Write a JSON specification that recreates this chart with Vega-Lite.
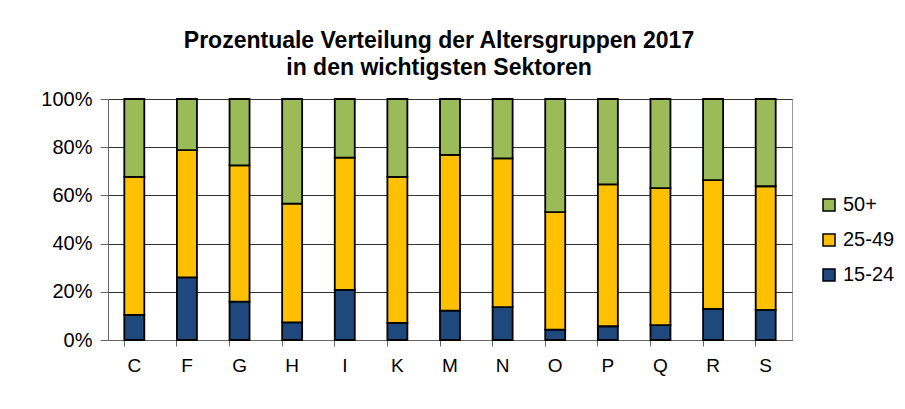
{
  "$schema": "https://vega.github.io/schema/vega-lite/v6.json",
  "width": 684,
  "height": 241,
  "autosize": {"type": "none"},
  "padding": {"left": 108, "top": 99, "right": 113, "bottom": 69},
  "background": "white",
  "title": {
    "text": ["Prozentuale Verteilung der Altersgruppen 2017", "in den wichtigsten Sektoren"],
    "font": "Liberation Sans",
    "fontSize": 23,
    "fontWeight": "bold",
    "color": "black",
    "anchor": "middle",
    "dx": -11,
    "offset": 9,
    "lineHeight": 27
  },
  "data": {
    "values": [
      {"sektor": "C", "gruppe": "15-24", "anteil": 10.4},
      {"sektor": "C", "gruppe": "25-49", "anteil": 57.3},
      {"sektor": "C", "gruppe": "50+", "anteil": 32.3},
      {"sektor": "F", "gruppe": "15-24", "anteil": 26.0},
      {"sektor": "F", "gruppe": "25-49", "anteil": 52.8},
      {"sektor": "F", "gruppe": "50+", "anteil": 21.2},
      {"sektor": "G", "gruppe": "15-24", "anteil": 15.9},
      {"sektor": "G", "gruppe": "25-49", "anteil": 56.6},
      {"sektor": "G", "gruppe": "50+", "anteil": 27.5},
      {"sektor": "H", "gruppe": "15-24", "anteil": 7.3},
      {"sektor": "H", "gruppe": "25-49", "anteil": 49.3},
      {"sektor": "H", "gruppe": "50+", "anteil": 43.4},
      {"sektor": "I", "gruppe": "15-24", "anteil": 20.8},
      {"sektor": "I", "gruppe": "25-49", "anteil": 54.9},
      {"sektor": "I", "gruppe": "50+", "anteil": 24.3},
      {"sektor": "K", "gruppe": "15-24", "anteil": 7.1},
      {"sektor": "K", "gruppe": "25-49", "anteil": 60.6},
      {"sektor": "K", "gruppe": "50+", "anteil": 32.3},
      {"sektor": "M", "gruppe": "15-24", "anteil": 12.2},
      {"sektor": "M", "gruppe": "25-49", "anteil": 64.6},
      {"sektor": "M", "gruppe": "50+", "anteil": 23.2},
      {"sektor": "N", "gruppe": "15-24", "anteil": 13.6},
      {"sektor": "N", "gruppe": "25-49", "anteil": 61.8},
      {"sektor": "N", "gruppe": "50+", "anteil": 24.6},
      {"sektor": "O", "gruppe": "15-24", "anteil": 4.3},
      {"sektor": "O", "gruppe": "25-49", "anteil": 48.8},
      {"sektor": "O", "gruppe": "50+", "anteil": 46.9},
      {"sektor": "P", "gruppe": "15-24", "anteil": 5.7},
      {"sektor": "P", "gruppe": "25-49", "anteil": 58.9},
      {"sektor": "P", "gruppe": "50+", "anteil": 35.4},
      {"sektor": "Q", "gruppe": "15-24", "anteil": 6.2},
      {"sektor": "Q", "gruppe": "25-49", "anteil": 56.8},
      {"sektor": "Q", "gruppe": "50+", "anteil": 37.0},
      {"sektor": "R", "gruppe": "15-24", "anteil": 12.9},
      {"sektor": "R", "gruppe": "25-49", "anteil": 53.4},
      {"sektor": "R", "gruppe": "50+", "anteil": 33.7},
      {"sektor": "S", "gruppe": "15-24", "anteil": 12.5},
      {"sektor": "S", "gruppe": "25-49", "anteil": 51.3},
      {"sektor": "S", "gruppe": "50+", "anteil": 36.2}
    ]
  },
  "mark": {"type": "bar", "stroke": "black", "strokeWidth": 1.8},
  "encoding": {
    "x": {
      "field": "sektor",
      "type": "nominal",
      "sort": null,
      "scale": {"paddingInner": 0.62, "paddingOuter": 0.31},
      "axis": {
        "title": null,
        "labelAngle": 0,
        "labelFont": "Liberation Sans",
        "labelFontSize": 19,
        "labelColor": "black",
        "labelPadding": 10,
        "bandPosition": 0,
        "ticks": true,
        "tickSize": 6,
        "tickColor": "#666",
        "domainColor": "#666",
        "grid": false
      }
    },
    "y": {
      "field": "anteil",
      "type": "quantitative",
      "stack": "normalize",
      "scale": {"domain": [0, 1]},
      "axis": {
        "title": null,
        "format": ".0%",
        "values": [0, 0.2, 0.4, 0.6, 0.8, 1],
        "labelFont": "Liberation Sans",
        "labelFontSize": 20,
        "labelColor": "black",
        "labelPadding": 8,
        "tickSize": 8,
        "tickColor": "#666",
        "domainColor": "#666",
        "grid": true,
        "gridColor": "#333",
        "gridWidth": 1
      }
    },
    "color": {
      "field": "gruppe",
      "type": "nominal",
      "scale": {
        "domain": ["50+", "25-49", "15-24"],
        "range": ["#9BBB59", "#FFC000", "#1F497D"]
      },
      "legend": {
        "title": null,
        "orient": "none",
        "legendX": 711,
        "legendY": 96,
        "symbolType": "square",
        "symbolSize": 144,
        "symbolStrokeColor": "black",
        "symbolStrokeWidth": 1.5,
        "labelFont": "Liberation Sans",
        "labelFontSize": 20,
        "labelColor": "black",
        "labelOffset": 4,
        "rowPadding": 15
      }
    },
    "order": {"field": "gruppe", "sort": "ascending"}
  },
  "config": {
    "view": {"stroke": "#999", "strokeWidth": 1}
  }
}
